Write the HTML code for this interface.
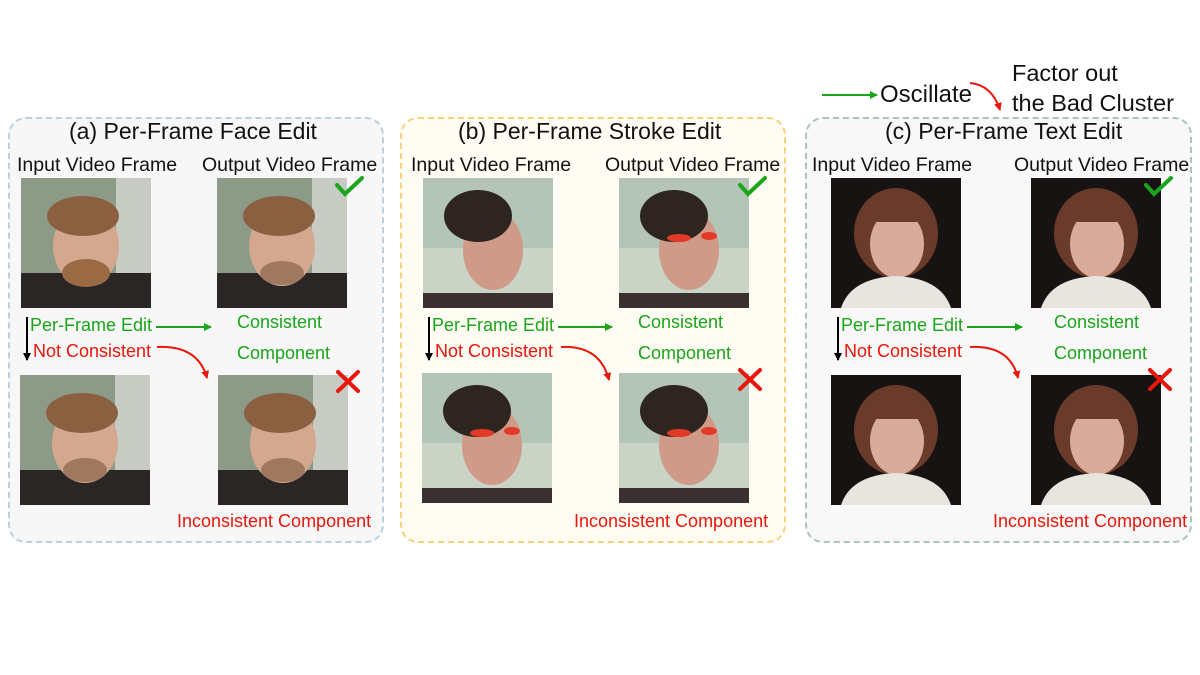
<!DOCTYPE html>
<html><head><meta charset="utf-8"><style>
body{margin:0;width:1200px;height:675px;background:#fff;position:relative;overflow:hidden;font-family:"Liberation Sans",sans-serif}
.a{position:absolute;white-space:nowrap;line-height:1.15}
.box{position:absolute;border:2px dashed;border-radius:18px;box-sizing:border-box}
.t{font-size:23px;color:#111}
.l{font-size:19.5px;color:#111}
.g{font-size:18px;color:#1aa51a}
.r{font-size:18px;color:#e8160c}
.lg{font-size:23.5px;color:#111}
svg.p{position:absolute;width:130px;height:130px}
</style></head><body>

<div class="box" style="left:8px;top:117px;width:376px;height:426px;background:#f7f7f8;border-color:#bcd0e0"></div>
<div class="box" style="left:400px;top:117px;width:386px;height:426px;background:#fffcf4;border-color:#f6d27a"></div>
<div class="box" style="left:805px;top:117px;width:387px;height:426px;background:#f7f8f7;border-color:#a9c6bc"></div>

<div class="a lg" style="left:880px;top:81px;font-size:24px">Oscillate</div>
<div class="a lg" style="left:1012px;top:60px">Factor out</div>
<div class="a lg" style="left:1012px;top:90px">the Bad Cluster</div>

<div class="a t" style="left:69px;top:118px">(a) Per-Frame Face Edit</div>
<div class="a t" style="left:458px;top:118px">(b) Per-Frame Stroke Edit</div>
<div class="a t" style="left:885px;top:118px">(c) Per-Frame Text Edit</div>

<div class="a l" style="left:17px;top:154px">Input Video Frame</div>
<div class="a l" style="left:202px;top:154px">Output Video Frame</div>
<div class="a l" style="left:411px;top:154px">Input Video Frame</div>
<div class="a l" style="left:605px;top:154px">Output Video Frame</div>
<div class="a l" style="left:812px;top:154px">Input Video Frame</div>
<div class="a l" style="left:1014px;top:154px">Output Video Frame</div>

<svg class="p" style="left:21px;top:178px" viewBox="0 0 130 130"><rect width="130" height="130" fill="#8e9a88"/><rect x="95" width="35" height="130" fill="#c8cac4"/><rect y="95" width="130" height="35" fill="#2a2626"/><ellipse cx="65" cy="68" rx="33" ry="40" fill="#d4a88e"/><ellipse cx="62" cy="38" rx="36" ry="20" fill="#8a6040"/><ellipse cx="65" cy="95" rx="24" ry="14" fill="#9a6a45"/></svg>
<svg class="p" style="left:217px;top:178px" viewBox="0 0 130 130"><rect width="130" height="130" fill="#8e9a88"/><rect x="95" width="35" height="130" fill="#c8cac4"/><rect y="95" width="130" height="35" fill="#2a2626"/><ellipse cx="65" cy="68" rx="33" ry="40" fill="#d4a88e"/><ellipse cx="62" cy="38" rx="36" ry="20" fill="#8a6040"/><ellipse cx="65" cy="95" rx="22" ry="12" fill="#a07860"/></svg>
<svg class="p" style="left:20px;top:375px" viewBox="0 0 130 130"><rect width="130" height="130" fill="#8e9a88"/><rect x="95" width="35" height="130" fill="#c8cac4"/><rect y="95" width="130" height="35" fill="#2a2626"/><ellipse cx="65" cy="68" rx="33" ry="40" fill="#d4a88e"/><ellipse cx="62" cy="38" rx="36" ry="20" fill="#8a6040"/><ellipse cx="65" cy="95" rx="22" ry="12" fill="#a07860"/></svg>
<svg class="p" style="left:218px;top:375px" viewBox="0 0 130 130"><rect width="130" height="130" fill="#8e9a88"/><rect x="95" width="35" height="130" fill="#c8cac4"/><rect y="95" width="130" height="35" fill="#2a2626"/><ellipse cx="65" cy="68" rx="33" ry="40" fill="#d4a88e"/><ellipse cx="62" cy="38" rx="36" ry="20" fill="#8a6040"/><ellipse cx="65" cy="95" rx="22" ry="12" fill="#a07860"/></svg>

<svg class="p" style="left:423px;top:178px" viewBox="0 0 130 130"><rect width="130" height="130" fill="#b4c4b6"/><rect y="70" width="130" height="60" fill="#c9d4c6"/><rect y="115" width="130" height="15" fill="#3a3030"/><ellipse cx="70" cy="72" rx="30" ry="40" fill="#d09a88"/><ellipse cx="55" cy="38" rx="34" ry="26" fill="#2e2420"/></svg>
<svg class="p" style="left:619px;top:178px" viewBox="0 0 130 130"><rect width="130" height="130" fill="#b4c4b6"/><rect y="70" width="130" height="60" fill="#c9d4c6"/><rect y="115" width="130" height="15" fill="#3a3030"/><ellipse cx="70" cy="72" rx="30" ry="40" fill="#d09a88"/><ellipse cx="55" cy="38" rx="34" ry="26" fill="#2e2420"/><ellipse cx="60" cy="60" rx="12" ry="4" fill="#e23a28"/><ellipse cx="90" cy="58" rx="8" ry="4" fill="#e23a28"/></svg>
<svg class="p" style="left:422px;top:373px" viewBox="0 0 130 130"><rect width="130" height="130" fill="#b4c4b6"/><rect y="70" width="130" height="60" fill="#c9d4c6"/><rect y="115" width="130" height="15" fill="#3a3030"/><ellipse cx="70" cy="72" rx="30" ry="40" fill="#d09a88"/><ellipse cx="55" cy="38" rx="34" ry="26" fill="#2e2420"/><ellipse cx="60" cy="60" rx="12" ry="4" fill="#e23a28"/><ellipse cx="90" cy="58" rx="8" ry="4" fill="#e23a28"/></svg>
<svg class="p" style="left:619px;top:373px" viewBox="0 0 130 130"><rect width="130" height="130" fill="#b4c4b6"/><rect y="70" width="130" height="60" fill="#c9d4c6"/><rect y="115" width="130" height="15" fill="#3a3030"/><ellipse cx="70" cy="72" rx="30" ry="40" fill="#d09a88"/><ellipse cx="55" cy="38" rx="34" ry="26" fill="#2e2420"/><ellipse cx="60" cy="60" rx="12" ry="4" fill="#e23a28"/><ellipse cx="90" cy="58" rx="8" ry="4" fill="#e23a28"/></svg>

<svg class="p" style="left:831px;top:178px" viewBox="0 0 130 130"><rect width="130" height="130" fill="#171313"/><ellipse cx="65" cy="55" rx="42" ry="45" fill="#6a3a2a"/><ellipse cx="66" cy="66" rx="27" ry="34" fill="#d8ab9b"/><rect x="38" y="22" width="56" height="22" rx="10" fill="#6a3a2a"/><path d="M10 130 Q20 100 65 98 Q110 100 120 130Z" fill="#e8e4de"/></svg>
<svg class="p" style="left:1031px;top:178px" viewBox="0 0 130 130"><rect width="130" height="130" fill="#171313"/><ellipse cx="65" cy="55" rx="42" ry="45" fill="#6a3a2a"/><ellipse cx="66" cy="66" rx="27" ry="34" fill="#d8ab9b"/><rect x="38" y="22" width="56" height="22" rx="10" fill="#6a3a2a"/><path d="M10 130 Q20 100 65 98 Q110 100 120 130Z" fill="#e8e4de"/></svg>
<svg class="p" style="left:831px;top:375px" viewBox="0 0 130 130"><rect width="130" height="130" fill="#171313"/><ellipse cx="65" cy="55" rx="42" ry="45" fill="#6a3a2a"/><ellipse cx="66" cy="66" rx="27" ry="34" fill="#d8ab9b"/><rect x="38" y="22" width="56" height="22" rx="10" fill="#6a3a2a"/><path d="M10 130 Q20 100 65 98 Q110 100 120 130Z" fill="#e8e4de"/></svg>
<svg class="p" style="left:1031px;top:375px" viewBox="0 0 130 130"><rect width="130" height="130" fill="#171313"/><ellipse cx="65" cy="55" rx="42" ry="45" fill="#6a3a2a"/><ellipse cx="66" cy="66" rx="27" ry="34" fill="#d8ab9b"/><rect x="38" y="22" width="56" height="22" rx="10" fill="#6a3a2a"/><path d="M10 130 Q20 100 65 98 Q110 100 120 130Z" fill="#e8e4de"/></svg>

<div class="a g" style="left:30px;top:315px">Per-Frame Edit</div>
<div class="a r" style="left:33px;top:341px">Not Consistent</div>
<div class="a g" style="left:237px;top:312px">Consistent</div>
<div class="a g" style="left:237px;top:343px">Component</div>
<div class="a r" style="left:177px;top:511px">Inconsistent Component</div>

<div class="a g" style="left:432px;top:315px">Per-Frame Edit</div>
<div class="a r" style="left:435px;top:341px">Not Consistent</div>
<div class="a g" style="left:638px;top:312px">Consistent</div>
<div class="a g" style="left:638px;top:343px">Component</div>
<div class="a r" style="left:574px;top:511px">Inconsistent Component</div>

<div class="a g" style="left:841px;top:315px">Per-Frame Edit</div>
<div class="a r" style="left:844px;top:341px">Not Consistent</div>
<div class="a g" style="left:1054px;top:312px">Consistent</div>
<div class="a g" style="left:1054px;top:343px">Component</div>
<div class="a r" style="left:993px;top:511px">Inconsistent Component</div>

<svg style="position:absolute;left:0;top:0" width="1200" height="675">
<defs>
<marker id="gk" markerWidth="8" markerHeight="8" refX="7" refY="4" orient="auto" markerUnits="userSpaceOnUse"><path d="M0,0 L8,4 L0,8Z" fill="#1aa51a"/></marker>
<marker id="rk" markerWidth="8" markerHeight="8" refX="7" refY="4" orient="auto" markerUnits="userSpaceOnUse"><path d="M0,0 L8,4 L0,8Z" fill="#e8160c"/></marker>
<marker id="bk" markerWidth="8" markerHeight="8" refX="7" refY="4" orient="auto" markerUnits="userSpaceOnUse"><path d="M0,0 L8,4 L0,8Z" fill="#000"/></marker>
</defs>
<g stroke-width="2" fill="none">
<line x1="822" y1="95" x2="877" y2="95" stroke="#1aa51a" marker-end="url(#gk)"/>
<path d="M970 83 Q992 85 1000 110" stroke="#e8160c" marker-end="url(#rk)"/>

<line x1="27" y1="317" x2="27" y2="360" stroke="#000" marker-end="url(#bk)"/>
<line x1="156" y1="327" x2="211" y2="327" stroke="#1aa51a" marker-end="url(#gk)"/>
<path d="M157 347 Q198 345 207 378" stroke="#e8160c" marker-end="url(#rk)"/>

<line x1="429" y1="317" x2="429" y2="360" stroke="#000" marker-end="url(#bk)"/>
<line x1="558" y1="327" x2="612" y2="327" stroke="#1aa51a" marker-end="url(#gk)"/>
<path d="M561 347 Q600 345 609 380" stroke="#e8160c" marker-end="url(#rk)"/>

<line x1="838" y1="317" x2="838" y2="360" stroke="#000" marker-end="url(#bk)"/>
<line x1="967" y1="327" x2="1022" y2="327" stroke="#1aa51a" marker-end="url(#gk)"/>
<path d="M970 347 Q1010 345 1018 378" stroke="#e8160c" marker-end="url(#rk)"/>
</g>
<g stroke="#1aa51a" stroke-width="4" fill="none" stroke-linecap="round">
<path d="M337 185 L345 194 L362 178"/><path d="M740 185 L748 194 L765 178"/><path d="M1146 185 L1154 194 L1171 178"/>
</g>
<g stroke="#e8160c" stroke-width="4" stroke-linecap="round">
<path d="M338 372 L358 391 M358 372 L338 391"/><path d="M740 370 L760 389 M760 370 L740 389"/><path d="M1150 370 L1170 389 M1170 370 L1150 389"/>
</g>
</svg>
</body></html>
